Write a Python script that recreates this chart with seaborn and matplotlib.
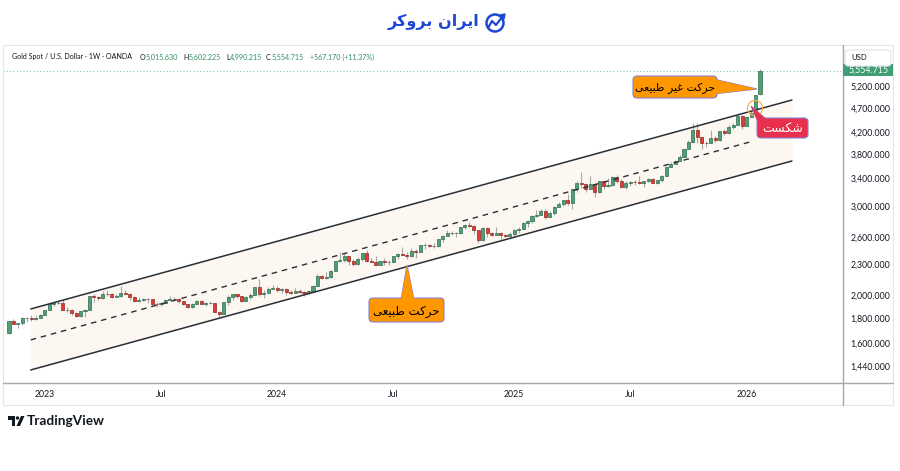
import matplotlib
matplotlib.use("Agg")
import matplotlib.pyplot as plt
import matplotlib.dates as mdates
from matplotlib.patches import FancyBboxPatch, Polygon, Rectangle, Circle
from matplotlib.lines import Line2D
from matplotlib.transforms import Affine2D
from matplotlib.ticker import FixedLocator, NullLocator
import numpy as np
import pandas as pd
import seaborn as sns

# weekly XAUUSD candles, first bar = week of 2022-11-07
first_week = "2022-11-07"

opens = [1676, 1771, 1751, 1755, 1797, 1797, 1793, 1798,
         1824, 1865, 1920, 1926, 1928, 1865, 1865, 1842, 1811, 1855, 1868, 1989, 1978, 1969, 2007, 2004, 1983,
         1990, 2017, 2011, 1977, 1946, 1948, 1961, 1958, 1921, 1919, 1925, 1955, 1962, 1959, 1943, 1914, 1889,
         1914, 1940, 1919, 1924, 1925, 1848, 1833, 1932, 1981, 2006, 1992, 1940, 1980, 2002, 2072, 2005, 2019, 2053,
         2063, 2045, 2049, 2029, 2018, 2039, 2024, 2013, 2035, 2083, 2179, 2156, 2165, 2230, 2330, 2344, 2391,
         2337, 2301, 2360, 2415, 2334, 2327, 2294, 2333, 2322, 2326, 2391, 2411, 2400, 2386, 2443, 2431, 2507,
         2512, 2503, 2497, 2578, 2621, 2658, 2653, 2657, 2721, 2747, 2737, 2685, 2563, 2715, 2650, 2633, 2648,
         2622, 2621,
         2640, 2690, 2703, 2770, 2800, 2861, 2883, 2936, 2858, 2910, 2984, 3023, 3084, 3037, 3237, 3327, 3319,
         3241, 3325, 3202, 3358, 3289, 3310, 3433, 3369, 3274, 3337, 3355, 3350, 3337, 3363, 3398, 3336, 3372,
         3448, 3587, 3643, 3685, 3760, 3887, 4018, 4252, 4113, 4002, 4000, 4085, 4065, 4218, 4198, 4300, 4340, 4530,
         4330, 4510, 4600, 5015.63]

highs = [1774, 1787, 1761, 1805, 1804, 1824, 1823, 1833,
         1865, 1922, 1937, 1949, 1959, 1890, 1870, 1848, 1858, 1871, 1989, 2009, 1987, 2032, 2048, 2013, 2009,
         2079, 2048, 2019, 1985, 1983, 1970, 1972, 1960, 1934, 1935, 1963, 1987, 1983, 1971, 1947, 1917, 1924,
         1953, 1953, 1932, 1947, 1926, 1853, 1933, 1997, 2009, 2009, 1993, 1988, 2018, 2075, 2146, 2047, 2070, 2088,
         2078, 2062, 2062, 2041, 2065, 2050, 2031, 2041, 2088, 2195, 2185, 2222, 2236, 2330, 2432, 2417, 2391,
         2353, 2378, 2422, 2450, 2364, 2388, 2336, 2368, 2340, 2392, 2424, 2483, 2432, 2477, 2461, 2509, 2531,
         2525, 2529, 2586, 2626, 2685, 2673, 2660, 2725, 2758, 2790, 2750, 2685, 2721, 2722, 2665, 2726, 2664,
         2638, 2665,
         2697, 2725, 2786, 2817, 2886, 2942, 2954, 2956, 2930, 3005, 3057, 3087, 3168, 3245, 3358, 3500, 3327,
         3435, 3326, 3366, 3365, 3403, 3446, 3452, 3398, 3365, 3368, 3375, 3439, 3363, 3409, 3404, 3379, 3453,
         3600, 3675, 3707, 3791, 3897, 4059, 4381, 4381, 4113, 4030, 4245, 4132, 4220, 4264, 4353, 4380, 4550, 4550,
         4520, 4640, 4990, 5602.225]

lows = [1673, 1747, 1721, 1739, 1765, 1774, 1785, 1797,
        1824, 1861, 1896, 1915, 1861, 1852, 1819, 1808, 1804, 1810, 1867, 1934, 1949, 1960, 1992, 1969, 1975,
        1978, 2007, 1952, 1937, 1932, 1940, 1925, 1910, 1893, 1902, 1922, 1951, 1942, 1925, 1912, 1885, 1884,
        1913, 1915, 1901, 1913, 1846, 1810, 1832, 1908, 1953, 1970, 1931, 1932, 1965, 2001, 1990, 1973, 2016, 2053,
        2024, 2013, 2002, 2010, 2016, 2015, 1984, 2010, 2025, 2083, 2146, 2146, 2163, 2228, 2326, 2325, 2292,
        2277, 2291, 2333, 2325, 2321, 2286, 2287, 2296, 2293, 2319, 2350, 2393, 2353, 2377, 2364, 2431, 2470,
        2490, 2471, 2486, 2546, 2615, 2624, 2603, 2640, 2707, 2725, 2643, 2536, 2562, 2605, 2614, 2629, 2583,
        2602, 2596,
        2615, 2657, 2696, 2730, 2772, 2859, 2879, 2833, 2857, 2880, 2982, 3000, 3016, 2957, 3194, 3260, 3202,
        3240, 3120, 3190, 3245, 3276, 3293, 3340, 3255, 3247, 3283, 3309, 3325, 3268, 3345, 3331, 3311, 3351,
        3436, 3579, 3628, 3680, 3755, 3885, 4000, 4004, 3886, 3930, 3997, 4022, 4040, 4160, 4175, 4270, 4340, 4270,
        4320, 4500, 4590, 4990.215]

closes = [1771, 1751, 1755, 1797, 1797, 1793, 1798, 1824,
          1865, 1920, 1926, 1928, 1865, 1865, 1842, 1811, 1855, 1868, 1989, 1978, 1969, 2007, 2004, 1983, 1990,
          2017, 2011, 1977, 1946, 1948, 1961, 1958, 1921, 1919, 1925, 1955, 1962, 1959, 1943, 1914, 1889, 1914,
          1940, 1919, 1924, 1925, 1848, 1833, 1932, 1981, 2006, 1992, 1940, 1980, 2002, 2072, 2005, 2019, 2053, 2063,
          2045, 2049, 2029, 2018, 2039, 2024, 2013, 2035, 2083, 2179, 2156, 2165, 2230, 2330, 2344, 2391, 2337,
          2301, 2360, 2415, 2334, 2327, 2294, 2333, 2322, 2326, 2391, 2411, 2400, 2386, 2443, 2431, 2507, 2512,
          2503, 2497, 2578, 2621, 2658, 2653, 2657, 2721, 2747, 2737, 2685, 2563, 2715, 2650, 2633, 2648, 2622,
          2621, 2640,
          2690, 2703, 2770, 2800, 2861, 2883, 2936, 2858, 2910, 2984, 3023, 3084, 3037, 3237, 3327, 3319, 3241,
          3325, 3202, 3358, 3289, 3310, 3433, 3369, 3274, 3337, 3355, 3350, 3337, 3363, 3398, 3336, 3372, 3448,
          3587, 3643, 3685, 3760, 3887, 4018, 4252, 4113, 4002, 4000, 4085, 4065, 4218, 4198, 4300, 4340, 4530, 4330,
          4510, 4600, 4987.5, 5554.715]

# drawn channel (trend lines)
channel_dates = ["2022-12-11", "2026-03-17"]
upper_prices = [1874, 4871]
lower_prices = [1418, 3686]
mid_dates = ["2022-12-11", "2026-01-10"]
mid_prices = [1627, 4020]

price_ticks = [1440, 1600, 1800, 2000, 2300, 2600, 3000, 3400, 3800, 4200, 4700, 5200]
tick_dates = ["2023-01-02", "2023-07-03", "2024-01-01", "2024-07-01", "2025-01-06", "2025-07-07", "2026-01-05"]
tick_labels = ["2023", "Jul", "2024", "Jul", "2025", "Jul", "2026"]

# --- tiny persian shaper (matplotlib has no arabic text layout) ---
FORMS = {
    "ا": "\ufe8d\ufe8e", "ر": "\ufead\ufeae", "و": "\ufeed\ufeee",
    "ب": "\ufe8f\ufe90\ufe91\ufe92", "ت": "\ufe95\ufe96\ufe97\ufe98",
    "ح": "\ufea1\ufea2\ufea3\ufea4", "س": "\ufeb1\ufeb2\ufeb3\ufeb4",
    "ش": "\ufeb5\ufeb6\ufeb7\ufeb8", "ط": "\ufec1\ufec2\ufec3\ufec4",
    "ع": "\ufec9\ufeca\ufecb\ufecc", "غ": "\ufecd\ufece\ufecf\ufed0",
    "ن": "\ufee5\ufee6\ufee7\ufee8", "ک": "\ufb8e\ufb8f\ufb90\ufb91",
    "ی": "\ufbfc\ufbfd\ufbfe\ufbff",
}


def fa(text):
    out = []
    for k, ch in enumerate(text):
        if ch not in FORMS:
            out.append(ch)
            continue
        prev = text[k - 1] if k > 0 else ""
        nxt = text[k + 1] if k + 1 < len(text) else ""
        jp = prev in FORMS and len(FORMS[prev]) == 4
        jn = nxt in FORMS and len(FORMS[ch]) == 4
        f = FORMS[ch]
        if len(f) == 2:
            out.append(f[1] if jp else f[0])
        else:
            out.append(f[3] if jp and jn else f[1] if jp else f[2] if jn else f[0])
    return "".join(reversed(out))


sns.set_theme(style="white")
plt.rcParams["font.family"] = ["Lato", "DejaVu Sans"]

fig = plt.figure(figsize=(9, 4.71), dpi=100)
ax = fig.add_axes([3 / 900, 1 - 383 / 471, 840 / 900, 335 / 471])
PX = Affine2D().scale(1 / 900, -1 / 471).translate(0, 1) + fig.transFigure

dates = pd.date_range(first_week, periods=len(closes), freq="7D")
x = mdates.date2num(dates)
o, h, l, c = (np.array(v, dtype=float) for v in (opens, highs, lows, closes))
up = c >= o

cx = mdates.date2num(pd.to_datetime(channel_dates))
mx = mdates.date2num(pd.to_datetime(mid_dates))
ax.fill_between(cx, upper_prices, lower_prices, color="#fcf7f1", lw=0, zorder=0)

ax.vlines(x, l, h, color="#a8a8a8", lw=0.8, zorder=2)
ax.bar(x[up], (c - o)[up], bottom=o[up], width=4.8, color="#4fa077",
       edgecolor="#2f6b4c", lw=0.5, zorder=3)
ax.bar(x[~up], (o - c)[~up], bottom=c[~up], width=4.8, color="#e53935",
       edgecolor="#8b2a22", lw=0.5, zorder=3)

sns.lineplot(x=cx, y=upper_prices, ax=ax, color="#2a2e39", lw=1.1, zorder=4)
sns.lineplot(x=cx, y=lower_prices, ax=ax, color="#2a2e39", lw=1.1, zorder=4)
sns.lineplot(x=mx, y=mid_prices, ax=ax, color="#2a2e39", lw=1.0, zorder=4,
             dashes=False, linestyle=(0, (4, 3.5)))
ax.axhline(closes[-1], color="#8ccbb9", lw=0.8, ls=(0, (1, 2)), zorder=1)

ax.set_yscale("log")
ax.set_ylim(1336, 6178)
ax.set_xlim(x[0] - 9.4, x[0] + 1306)
ax.yaxis.set_major_locator(FixedLocator(price_ticks))
ax.yaxis.set_minor_locator(NullLocator())
ax.set_yticklabels([f"{v:,.3f}" for v in price_ticks])
ax.yaxis.tick_right()
ax.xaxis.set_major_locator(FixedLocator(mdates.date2num(pd.to_datetime(tick_dates))))
ax.set_xticklabels(tick_labels)
ax.tick_params(axis="y", length=0, pad=5.5, labelsize=6.3, labelcolor="#131722")
ax.tick_params(axis="x", length=0, pad=5, labelsize=6.3, labelcolor="#131722")
for s in ax.spines.values():
    s.set_visible(False)
ax.set_xlabel("")
ax.set_ylabel("")

# panel frame and axis lines
fig.add_artist(Rectangle((3, 45), 890, 360, transform=PX, fill=False, ec="#e6e6e6", lw=0.8))
fig.add_artist(Line2D([3, 893], [383, 383], transform=PX, color="#a5a8b0", lw=1))
fig.add_artist(Line2D([843, 843], [45, 405], transform=PX, color="#a5a8b0", lw=1))

# header legend
dark, green = "#131722", "#2f8f60"
hfs = 5.1
fig.text(12, 57, "Gold Spot / U.S. Dollar · 1W · OANDA", transform=PX, fontsize=hfs,
         color=dark, va="center")
for lab, val, xp in [("O", "5,015.630", 140), ("H", "5,602.225", 183),
                     ("L", "4,990.215", 226), ("C", "5,554.715", 266)]:
    fig.text(xp, 57, lab, transform=PX, fontsize=hfs, color=dark, va="center")
    fig.text(xp + (4 if lab == "L" else 5.5), 57, val, transform=PX, fontsize=hfs, color=green, va="center")
fig.text(310, 57, "+567.170 (+11.37%)", transform=PX, fontsize=hfs, color=green, va="center")

# right axis price label and currency box
fig.add_artist(Rectangle((843, 64), 50, 12, transform=PX, fc="#3f9e74", ec="none", zorder=5))
fig.text(868, 70.5, "5,554.715", transform=PX, fontsize=6.3, color="white", ha="center",
         va="center", zorder=6)
fig.add_artist(FancyBboxPatch((845, 50), 46, 16, boxstyle="round,pad=0,rounding_size=3",
                              transform=PX, fc="white", ec="#e0e3eb", lw=0.8, zorder=7))
fig.text(851, 58, "USD", transform=PX, fontsize=5.6, color=dark, va="center", zorder=8)


def callout(box, tail, face, label, tcolor, fs):
    x0, y0, w, hh = box
    edge = "#8a7fd0"
    fig.add_artist(Polygon(tail, closed=True, transform=PX, fc=face, ec=edge, lw=0.8, zorder=5))
    fig.add_artist(FancyBboxPatch((x0, y0), w, hh, boxstyle="round,pad=0,rounding_size=4",
                                  transform=PX, fc=face, ec=edge, lw=0.8, zorder=6))
    fig.add_artist(Polygon(tail, closed=True, transform=PX, fc=face, ec="none", zorder=7))
    fig.text(x0 + w / 2, y0 + hh / 2 + 1, fa(label), transform=PX, fontsize=fs, color=tcolor,
             ha="center", va="center", family=["DejaVu Sans"], zorder=8)


fig.add_artist(Circle((755, 108), 7.5, transform=PX, fill=False, ec="#f5b24a", lw=0.9, zorder=4))
callout((633, 76, 84, 22), [(713, 79), (757, 89), (713, 94)], "#ff9800", "حرکت غیر طبیعی", "black", 7.8)
callout((369, 298, 75, 24), [(401, 300), (407, 265), (414, 300)], "#ff9800", "حرکت طبیعی", "black", 8.5)
callout((757, 118, 51, 20), [(759, 124), (751, 106), (767, 120)], "#e8304c", "شکست", "white", 9)

# broker logo (top)
blue = "#1f47d6"
fig.text(479, 22, fa("ایران بروکر"), transform=PX, fontsize=11.5, fontweight="bold", color=blue,
         ha="right", va="center", family=["DejaVu Sans"])
fig.add_artist(Circle((495, 23), 8.5, transform=PX, fill=False, ec=blue, lw=1.8))
fig.add_artist(Line2D([488, 492, 496, 503], [28, 21, 25, 16], transform=PX, color=blue, lw=1.6))
fig.add_artist(Polygon([(500, 15), (505, 14), (504, 19)], closed=True, transform=PX, fc=blue, ec=blue))

# TradingView mark (bottom)
fig.add_artist(Polygon([(8, 416), (15, 416), (15, 426), (11.5, 426), (11.5, 419.5), (8, 419.5)],
                       closed=True, transform=PX, fc=dark, ec="none"))
fig.add_artist(Circle((17.5, 418), 1.7, transform=PX, fc=dark, ec="none"))
fig.add_artist(Polygon([(21, 416), (24.5, 416), (20, 426), (16.5, 426)], closed=True,
                       transform=PX, fc=dark, ec="none"))
fig.text(27, 421, "TradingView", transform=PX, fontsize=9.8, fontweight="bold", color=dark, va="center")

fig.savefig("out.png", dpi=100)
